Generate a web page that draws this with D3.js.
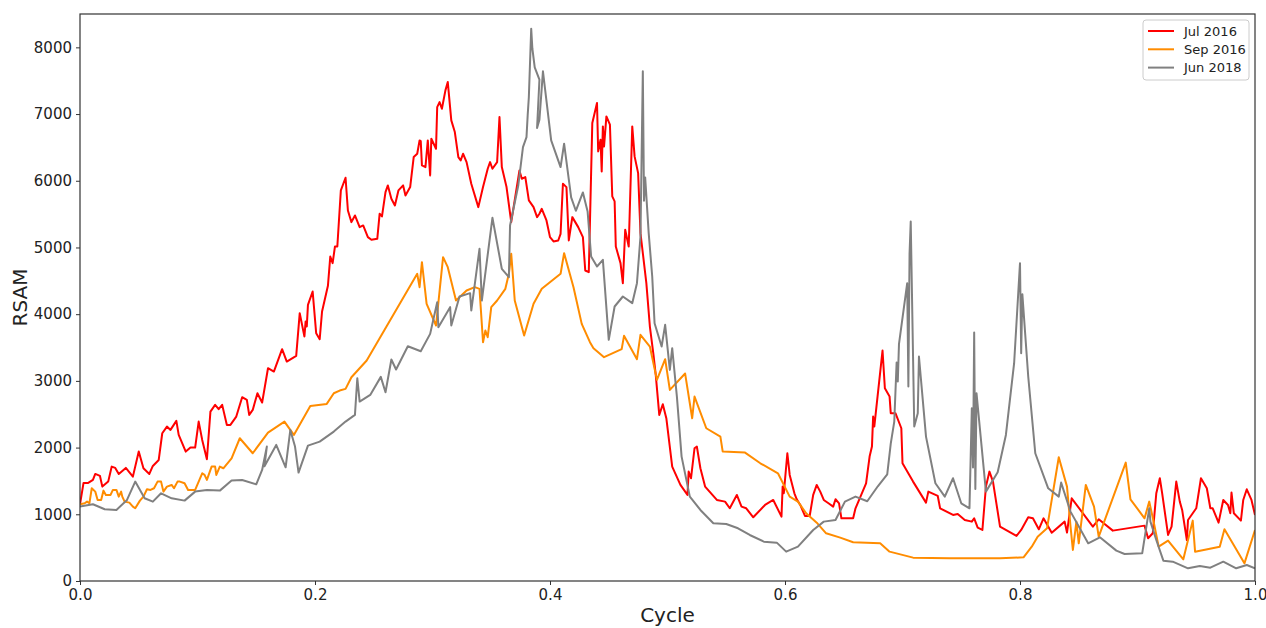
<!DOCTYPE html>
<html lang="en">
<head>
    <meta charset="UTF-8">
    <title>RSAM vs Cycle</title>
    <script src="https://d3js.org/d3.v7.min.js"></script>
    <style>
        body { margin: 0; background: #fff; }
        text { font-family: 'DejaVu Sans', sans-serif; fill: #222; }
    </style>
</head>
<body>
    <div class="canvas"></div>
    <script>
      // series: [cycle, RSAM]
      const jul2016 = [
        [0,1150],[0.003,1470],[0.007,1470],[0.011,1515],[0.013,1605],[0.017,1575],[0.019,1415],[0.024,1490],
        [0.027,1715],[0.030,1695],[0.033,1605],[0.039,1695],[0.045,1565],[0.050,1940],[0.054,1690],[0.059,1605],
        [0.062,1725],[0.067,1815],[0.070,2215],[0.074,2315],[0.077,2265],[0.082,2400],[0.084,2190],[0.090,1940],
        [0.094,2000],[0.098,2000],[0.101,2390],[0.104,2115],[0.108,1825],[0.111,2540],[0.115,2640],[0.118,2575],
        [0.121,2640],[0.125,2340],[0.128,2340],[0.133,2465],[0.138,2755],[0.142,2715],[0.144,2490],[0.147,2565],
        [0.151,2815],[0.155,2675],[0.160,3190],[0.165,3140],[0.172,3475],[0.176,3290],[0.184,3375],[0.187,4015],
        [0.191,3665],[0.192,3890],[0.193,3815],[0.194,4140],[0.198,4340],[0.201,3715],[0.204,3625],[0.206,4040],
        [0.211,4425],[0.213,4865],[0.215,4765],[0.217,5015],[0.219,5015],[0.222,5855],[0.226,6045],[0.228,5555],
        [0.231,5380],[0.234,5480],[0.238,5305],[0.241,5330],[0.245,5155],[0.248,5115],[0.253,5130],[0.255,5505],
        [0.257,5465],[0.260,5830],[0.262,5930],[0.265,5730],[0.268,5630],[0.271,5855],[0.275,5930],[0.277,5780],
        [0.281,5905],[0.284,6355],[0.287,6405],[0.289,6605],[0.290,6595],[0.291,6230],[0.294,6205],[0.296,6605],
        [0.298,6080],[0.299,6630],[0.303,6480],[0.304,7105],[0.306,7180],[0.308,7080],[0.311,7355],[0.313,7480],
        [0.316,6905],[0.319,6730],[0.322,6355],[0.324,6305],[0.326,6405],[0.329,6280],[0.333,5955],[0.339,5605],
        [0.343,5905],[0.347,6180],[0.349,6280],[0.351,6180],[0.355,6280],[0.357,6955],[0.359,6205],[0.363,5905],
        [0.367,5380],[0.374,6155],[0.376,6030],[0.379,6055],[0.382,5705],[0.386,5605],[0.389,5455],[0.391,5505],
        [0.393,5580],[0.397,5405],[0.400,5155],[0.403,5090],[0.407,5105],[0.409,5205],[0.411,5955],[0.414,5905],
        [0.416,5105],[0.419,5455],[0.424,5305],[0.428,5155],[0.430,4655],[0.433,4630],[0.436,6865],[0.440,7165],
        [0.441,6440],[0.443,6615],[0.444,6140],[0.445,6815],[0.446,6515],[0.448,6965],[0.451,6840],[0.453,5765],
        [0.455,5690],[0.456,5015],[0.460,4765],[0.462,4465],[0.464,5265],[0.467,5015],[0.470,6815],[0.472,6365],
        [0.475,6115],[0.477,5215],[0.482,4465],[0.485,3815],[0.488,3400],[0.490,3090],[0.493,2490],[0.496,2650],
        [0.499,2440],[0.504,1715],[0.511,1440],[0.517,1290],[0.518,1640],[0.520,1540],[0.523,1990],[0.525,2015],
        [0.528,1690],[0.532,1415],[0.542,1215],[0.549,1190],[0.553,1090],[0.559,1290],[0.563,1115],[0.567,1090],
        [0.573,955],[0.583,1140],[0.590,1215],[0.597,965],[0.598,1415],[0.599,1315],[0.602,1915],[0.604,1590],
        [0.608,1315],[0.610,1225],[0.613,1140],[0.617,975],[0.621,975],[0.624,1290],[0.627,1440],[0.630,1340],
        [0.633,1215],[0.637,1165],[0.641,1115],[0.643,1225],[0.646,1165],[0.648,940],[0.658,940],[0.660,1090],
        [0.669,1465],[0.672,1865],[0.674,2015],[0.675,2465],[0.676,2315],[0.683,3455],[0.685,2890],[0.689,2765],
        [0.690,2515],[0.694,2515],[0.699,2290],[0.700,1765],[0.709,1490],[0.720,1175],[0.722,1340],[0.730,1275],
        [0.732,1090],[0.743,990],[0.747,1005],[0.753,915],[0.759,890],[0.761,940],[0.764,800],[0.768,765],
        [0.771,1415],[0.774,1640],[0.777,1490],[0.783,815],[0.797,675],[0.801,765],[0.807,955],[0.811,940],
        [0.816,775],[0.820,940],[0.827,725],[0.838,890],[0.840,725],[0.844,1240],[0.862,815],[0.867,925],
        [0.879,755],[0.906,830],[0.909,640],[0.913,715],[0.916,1315],[0.919,1540],[0.921,1315],[0.926,690],
        [0.929,815],[0.933,1490],[0.936,1190],[0.938,1065],[0.942,615],[0.943,915],[0.950,1090],[0.954,1540],
        [0.959,1390],[0.962,1090],[0.964,1090],[0.969,875],[0.973,1215],[0.977,1140],[0.979,1015],[0.980,1325],
        [0.982,1015],[0.988,905],[0.990,1215],[0.993,1375],[0.997,1215],[1.000,990]
      ];

      const sep2016 = [
        [0,1150],[0.004,1165],[0.006,1190],[0.008,1165],[0.010,1390],[0.013,1340],[0.015,1215],[0.018,1215],
        [0.020,1355],[0.022,1290],[0.026,1290],[0.028,1365],[0.031,1365],[0.033,1265],[0.035,1340],[0.036,1265],
        [0.038,1190],[0.042,1175],[0.045,1115],[0.047,1090],[0.051,1205],[0.054,1265],[0.057,1375],[0.060,1365],
        [0.063,1390],[0.066,1490],[0.069,1490],[0.071,1340],[0.074,1415],[0.078,1440],[0.080,1390],[0.083,1490],
        [0.085,1490],[0.089,1465],[0.092,1365],[0.098,1365],[0.101,1490],[0.104,1615],[0.106,1590],[0.108,1515],
        [0.112,1715],[0.115,1715],[0.116,1590],[0.119,1715],[0.122,1690],[0.129,1840],[0.136,2140],[0.147,1915],
        [0.160,2225],[0.174,2390],[0.182,2190],[0.196,2625],[0.210,2655],[0.216,2815],[0.221,2855],[0.226,2880],
        [0.231,3055],[0.244,3305],[0.287,4605],[0.289,4405],[0.291,4780],[0.295,4155],[0.303,3830],[0.309,4855],
        [0.313,4705],[0.320,4205],[0.329,4355],[0.336,4405],[0.340,4380],[0.343,3580],[0.345,3755],[0.347,3655],
        [0.350,4105],[0.355,4205],[0.362,4380],[0.365,4605],[0.367,4905],[0.370,4205],[0.378,3680],[0.386,4155],
        [0.393,4380],[0.409,4605],[0.412,4915],[0.420,4405],[0.427,3855],[0.434,3580],[0.437,3490],[0.446,3355],
        [0.461,3475],[0.463,3675],[0.474,3325],[0.477,3690],[0.485,3515],[0.491,3015],[0.498,3325],[0.502,2865],
        [0.515,3110],[0.521,2440],[0.523,2765],[0.533,2290],[0.545,2165],[0.547,1940],[0.566,1925],[0.579,1765],
        [0.594,1615],[0.604,1265],[0.611,1190],[0.618,1015],[0.627,875],[0.635,715],[0.647,650],[0.658,580],
        [0.681,565],[0.689,440],[0.709,350],[0.740,340],[0.783,340],[0.803,355],[0.810,515],[0.815,665],
        [0.823,790],[0.833,1855],[0.840,1415],[0.843,815],[0.845,465],[0.848,890],[0.850,565],[0.856,1440],
        [0.863,1115],[0.867,665],[0.890,1775],[0.894,1225],[0.906,940],[0.910,1190],[0.914,865],[0.918,515],
        [0.926,605],[0.939,325],[0.947,905],[0.949,440],[0.970,515],[0.974,775],[0.991,265],[1.000,765]
      ];

      const jun2018 = [
        [0,1115],[0.011,1150],[0.021,1075],[0.031,1065],[0.040,1215],[0.047,1490],[0.055,1240],[0.062,1190],
        [0.069,1315],[0.078,1240],[0.089,1205],[0.098,1340],[0.108,1365],[0.119,1355],[0.129,1505],[0.138,1515],
        [0.150,1450],[0.155,1665],[0.159,2015],[0.157,1720],[0.167,2040],[0.175,1705],[0.179,2265],[0.183,2015],
        [0.186,1625],[0.194,2030],[0.204,2090],[0.216,2240],[0.226,2390],[0.234,2490],[0.236,3040],[0.238,2690],
        [0.247,2790],[0.256,3060],[0.260,2830],[0.265,3320],[0.269,3170],[0.279,3520],[0.290,3445],[0.298,3705],
        [0.304,4180],[0.305,3805],[0.315,4105],[0.316,3830],[0.323,4265],[0.332,4315],[0.333,4055],[0.340,4980],
        [0.342,4205],[0.351,5445],[0.359,4680],[0.365,4555],[0.366,5330],[0.373,5930],[0.377,6505],[0.380,6655],
        [0.381,6980],[0.382,7255],[0.384,8280],[0.385,7980],[0.387,7700],[0.391,7515],[0.389,6790],[0.391,6915],
        [0.394,7640],[0.401,6605],[0.409,6205],[0.412,6555],[0.418,5750],[0.422,5550],[0.428,5825],[0.432,5540],
        [0.435,4865],[0.440,4715],[0.445,4815],[0.450,3615],[0.455,4115],[0.462,4265],[0.470,4165],[0.474,4465],
        [0.477,5165],[0.479,7640],[0.480,5700],[0.481,6050],[0.484,5215],[0.487,4565],[0.489,3865],[0.495,3515],
        [0.498,3840],[0.502,3165],[0.504,3490],[0.508,2765],[0.512,1865],[0.519,1265],[0.528,1065],[0.539,865],
        [0.550,855],[0.560,790],[0.570,690],[0.582,590],[0.593,575],[0.601,440],[0.611,515],[0.624,765],
        [0.633,890],[0.643,915],[0.651,1190],[0.660,1265],[0.670,1195],[0.679,1420],[0.687,1600],[0.690,2060],
        [0.693,2390],[0.695,3275],[0.696,2990],[0.697,3550],[0.704,4465],[0.705,2915],[0.706,4900],[0.707,5390],
        [0.710,2315],[0.713,2515],[0.714,3365],[0.720,2165],[0.728,1465],[0.736,1265],[0.743,1540],[0.750,1165],
        [0.757,1090],[0.759,2590],[0.760,1700],[0.761,3725],[0.762,1380],[0.763,2815],[0.771,1340],[0.781,1630],
        [0.788,2190],[0.795,3265],[0.800,4765],[0.801,3415],[0.802,4300],[0.807,3065],[0.813,1915],[0.824,1390],
        [0.833,1265],[0.835,1475],[0.843,1040],[0.858,565],[0.868,655],[0.882,455],[0.889,405],[0.904,415],
        [0.910,1090],[0.911,890],[0.916,615],[0.922,305],[0.930,290],[0.943,190],[0.953,225],[0.962,200],
        [0.973,290],[0.984,190],[0.993,240],[1.000,190]
      ];

      const seriesNames = ['Jul 2016', 'Sep 2016', 'Jun 2018'];
      const seriesColors = ['#ff0000', '#ff8c00', '#808080'];
      const xTicks = [0, 0.2, 0.4, 0.6, 0.8, 1.0];
      const yTicks = [0, 1000, 2000, 3000, 4000, 5000, 6000, 7000, 8000];

      const width = 1266;
      const height = 628;
      const [mt, mb, mr, ml] = [14, 47, 11, 80];
      const graphWidth = width - (ml + mr);
      const graphHeight = height - (mt + mb);

      const svg = d3.select('.canvas')
                      .append('svg')
                      .attr('width', width)
                      .attr('height', height);

      const graph = svg.append('g')
                        .attr('transform', `translate(${ml}, ${mt})`);

      const x = d3.scaleLinear().domain([0, 1]).range([0, graphWidth]);
      const y = d3.scaleLinear().domain([0, 8500]).range([graphHeight, 0]);

      // axes (matplotlib look: outward ticks, no domain path, frame drawn separately)
      const xAxis = d3.axisBottom(x).tickValues(xTicks).tickFormat(d3.format('.1f')).tickSize(4).tickPadding(4);
      const yAxis = d3.axisLeft(y).tickValues(yTicks).tickFormat(d => d).tickSize(4).tickPadding(4);

      const xAxisG = graph.append('g')
                          .attr('transform', `translate(0, ${graphHeight})`)
                          .call(xAxis);
      const yAxisG = graph.append('g').call(yAxis);

      [xAxisG, yAxisG].forEach(g => {
        g.select('.domain').remove();
        g.selectAll('line').attr('stroke', '#333');
        g.selectAll('text').style('font-size', '15px').attr('fill', '#222');
      });

      // clip lines to plot area
      svg.append('clipPath').attr('id', 'clip')
         .append('rect').attr('width', graphWidth).attr('height', graphHeight);

      const line = d3.line()
                      .x(d => x(d[0]))
                      .y(d => y(d[1]));

      const allSeries = [jul2016, sep2016, jun2018];

      graph.append('g')
           .attr('clip-path', 'url(#clip)')
           .selectAll('path')
           .data(allSeries)
           .enter()
           .append('path')
           .attr('fill', 'none')
           .attr('stroke', (d, i) => seriesColors[i])
           .attr('stroke-width', 2)
           .attr('stroke-linejoin', 'round')
           .attr('d', d => line(d));

      // frame
      graph.append('rect')
           .attr('width', graphWidth)
           .attr('height', graphHeight)
           .attr('fill', 'none')
           .attr('stroke', '#333')
           .attr('stroke-width', 1.2);

      // axis labels
      svg.append('text')
         .attr('x', ml + graphWidth / 2)
         .attr('y', 622)
         .attr('text-anchor', 'middle')
         .style('font-size', '20px')
         .text('Cycle');

      svg.append('text')
         .attr('transform', `translate(27, ${mt + graphHeight / 2}) rotate(-90)`)
         .attr('text-anchor', 'middle')
         .style('font-size', '20px')
         .text('RSAM');

      // legend
      const legend = svg.append('g').attr('transform', 'translate(1143, 20)');
      legend.append('rect')
            .attr('width', 106)
            .attr('height', 60)
            .attr('rx', 3)
            .attr('fill', '#fff')
            .attr('stroke', '#ccc');

      const items = legend.selectAll('g.item')
                          .data(seriesNames)
                          .enter()
                          .append('g')
                          .attr('transform', (d, i) => `translate(0, ${11 + i * 18.3})`);
      items.append('line')
           .attr('x1', 5).attr('x2', 31)
           .attr('stroke', (d, i) => seriesColors[i])
           .attr('stroke-width', 2);
      items.append('text')
           .attr('x', 41)
           .attr('dy', '0.35em')
           .style('font-size', '13px')
           .text(d => d);
    </script>
</body>
</html>
